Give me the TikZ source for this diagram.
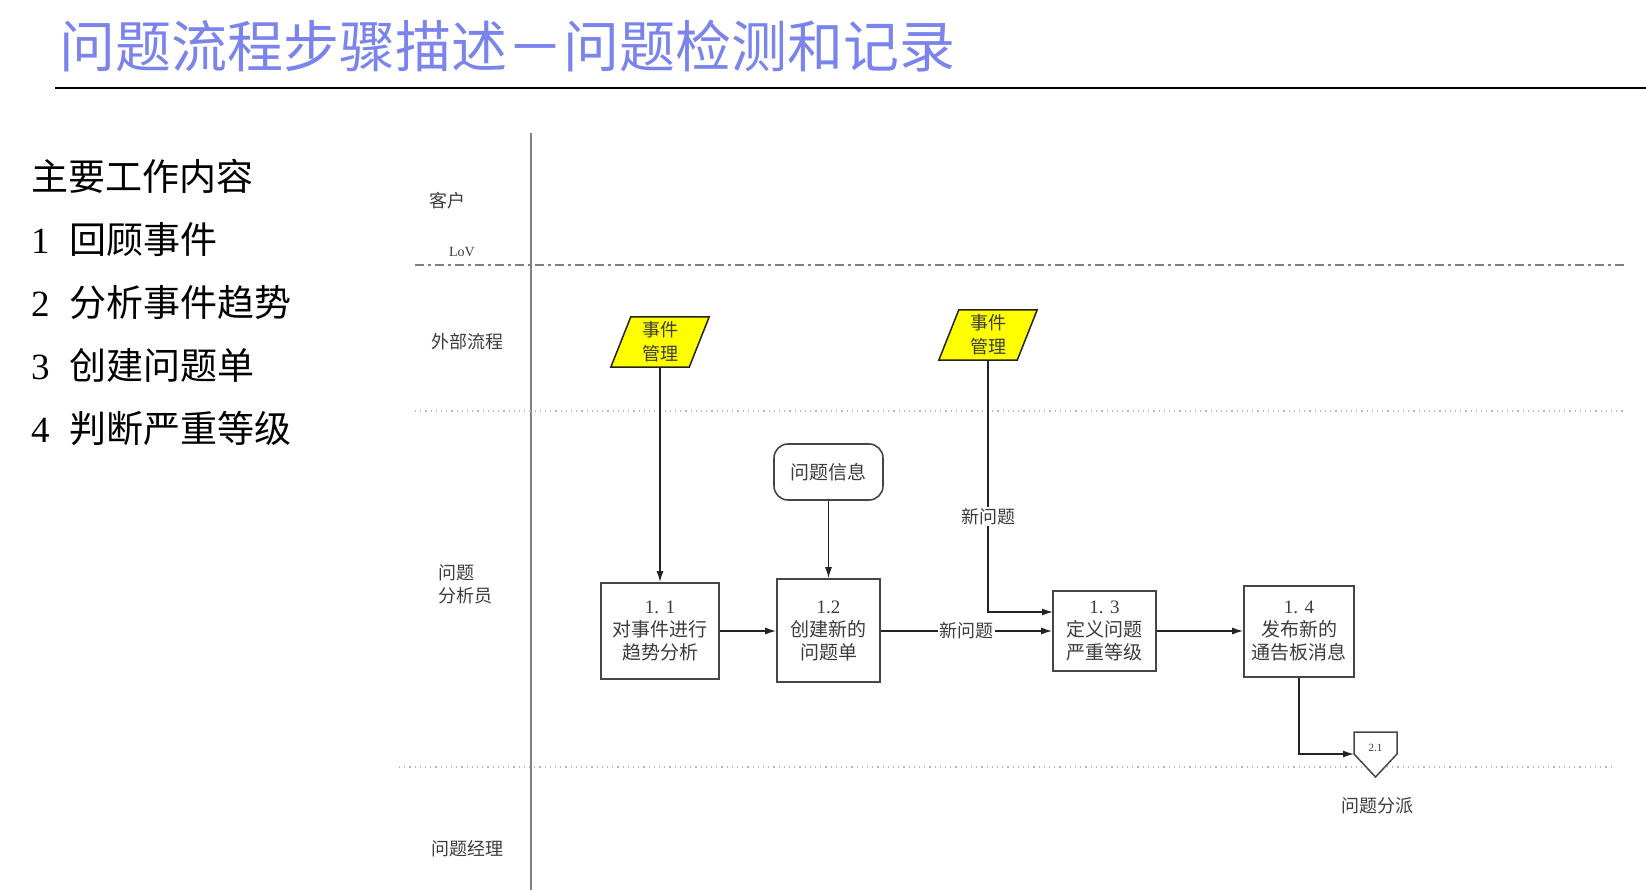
\documentclass[tikz,border=0pt]{standalone}
\usepackage{fontspec}
\setmainfont{Liberation Serif}
\newfontfamily\cjk{Noto Sans CJK SC}
\usetikzlibrary{arrows.meta}
\definecolor{titleblue}{RGB}{122,132,236}
\definecolor{txtgray}{RGB}{60,60,60}
\definecolor{boxgray}{RGB}{70,70,70}
\definecolor{linedark}{RGB}{35,35,35}
\definecolor{lanegray}{RGB}{128,128,128}
\definecolor{dotgray}{RGB}{185,185,185}
\definecolor{pmyellow}{RGB}{255,255,0}
\begin{document}
\begin{tikzpicture}[x=1pt,y=-1pt,
  lab/.style={inner sep=0pt, font=\cjk\fontsize{18}{23}\selectfont, text=txtgray},
  listtxt/.style={inner sep=0pt, anchor=west, font=\cjk\fontsize{37}{40}\selectfont, text=black},
  procbox/.style={draw=boxgray, line width=1.6pt, inner sep=0pt, align=center,
    font=\cjk\fontsize{19}{23}\selectfont, text=txtgray, fill=white},
  pmtext/.style={inner sep=0pt, align=center, minimum height=50pt, minimum width=78pt,
    font=\cjk\fontsize{18}{24}\selectfont, text=txtgray},
  conn/.style={draw=linedark, line width=1.4pt, -{Latex[length=11pt,width=7pt]}},
  lane/.style={draw=lanegray, line width=2pt},
  lanedot/.style={draw=dotgray, line width=1.2pt, dash pattern=on 1.2pt off 4pt},
  lanedashdot/.style={draw=lanegray, line width=1.8pt, dash pattern=on 9pt off 4pt on 3pt off 4pt},
  flowlab/.style={fill=white, inner sep=1.5pt, font=\cjk\fontsize{18}{20}\selectfont, text=txtgray}
]
\useasboundingbox (0,0) rectangle (1646,890);

% title
\node[inner sep=0pt, anchor=west, font=\cjk\fontsize{56}{60}\selectfont, text=titleblue] (title) at (59,46) {问题流程步骤描述－问题检测和记录};
\draw[draw=black, line width=2pt] (55,88) -- (1646,88);

% left list
\node[listtxt] (l0) at (31,176) {主要工作内容};
\node[listtxt] (l1) at (31,239) {\makebox[38pt][l]{\rmfamily 1}回顾事件};
\node[listtxt] (l2) at (31,302) {\makebox[38pt][l]{\rmfamily 2}分析事件趋势};
\node[listtxt] (l3) at (31,365) {\makebox[38pt][l]{\rmfamily 3}创建问题单};
\node[listtxt] (l4) at (31,428) {\makebox[38pt][l]{\rmfamily 4}判断严重等级};

% lanes
\draw[lane] (531,133) -- (531,890);
\draw[lanedashdot] (415,265) -- (1625,265);
\draw[lanedot] (415,411) -- (1625,411);
\draw[lanedot] (399,767) -- (1614,767);

\node[lab] (lkh) at (447,201) {客户};
\node[lab, font=\rmfamily\fontsize{14}{16}\selectfont] (llov) at (462,252) {LoV};
\node[lab] (lwb) at (467,342) {外部流程};
\node[lab, align=left, anchor=west] (lfx) at (438,584) {问题\\分析员};
\node[lab] (ljl) at (467,849) {问题经理};

% parallelograms
\node[pmtext] (pm1) at (660,342) {事件\\管理};
\draw[draw=linedark, line width=1.5pt, fill=pmyellow]
  ([xshift=10pt]pm1.north west) -- ([xshift=10pt]pm1.north east) --
  ([xshift=-10pt]pm1.south east) -- ([xshift=-10pt]pm1.south west) -- cycle;
\node[pmtext] at (pm1) {事件\\管理};

\node[pmtext] (pm2) at (988,335) {事件\\管理};
\draw[draw=linedark, line width=1.5pt, fill=pmyellow]
  ([xshift=10pt]pm2.north west) -- ([xshift=10pt]pm2.north east) --
  ([xshift=-10pt]pm2.south east) -- ([xshift=-10pt]pm2.south west) -- cycle;
\node[pmtext] at (pm2) {事件\\管理};

% info
\node[procbox, rounded corners=14pt, minimum width=109pt, minimum height=56pt] (info) at (828.5,472) {问题信息};

% process boxes
\node[procbox, minimum width=118pt, minimum height=96pt] (b11) at (660,631) {{\rmfamily 1. 1}\\对事件进行\\趋势分析};
\node[procbox, minimum width=103pt, minimum height=103pt] (b12) at (828.5,630.5) {{\rmfamily 1.2}\\创建新的\\问题单};
\node[procbox, minimum width=103pt, minimum height=80pt] (b13) at (1104.5,631) {{\rmfamily 1. 3}\\定义问题\\严重等级};
\node[procbox, minimum width=110pt, minimum height=91pt] (b14) at (1299,631.5) {{\rmfamily 1. 4}\\发布新的\\通告板消息};

% off-page connector
\draw[draw=boxgray, line width=1.5pt, fill=white] (1354,732) -- (1397,732) -- (1397,754) -- (1375.5,777) -- (1354,754) -- cycle;
\node[inner sep=0pt, font=\rmfamily\fontsize{11}{12}\selectfont, text=txtgray] (p21) at (1375.5,748) {2.1};
\coordinate (p21in) at (1354,754);
\node[lab] (pfp) at (1377,806) {问题分派};

% connectors
\coordinate (in13) at (1053,612);
\draw[conn] (pm1.south) -- (b11.north);
\draw[conn] (info.south) -- (b12.north);
\draw[conn] (b11.east) -- (b12.west |- b11.east);
\draw[conn] (b12.east |- b13.west) -- node[flowlab] (nq1) {新问题} (b13.west);
\draw[conn] (pm2.south) |- node[flowlab, pos=0.31] (nq2) {新问题} (in13);
\draw[conn] (b13.east) -- (b14.west |- b13.east);
\draw[conn] (b14.south) |- (p21in);
\end{tikzpicture}
\end{document}
